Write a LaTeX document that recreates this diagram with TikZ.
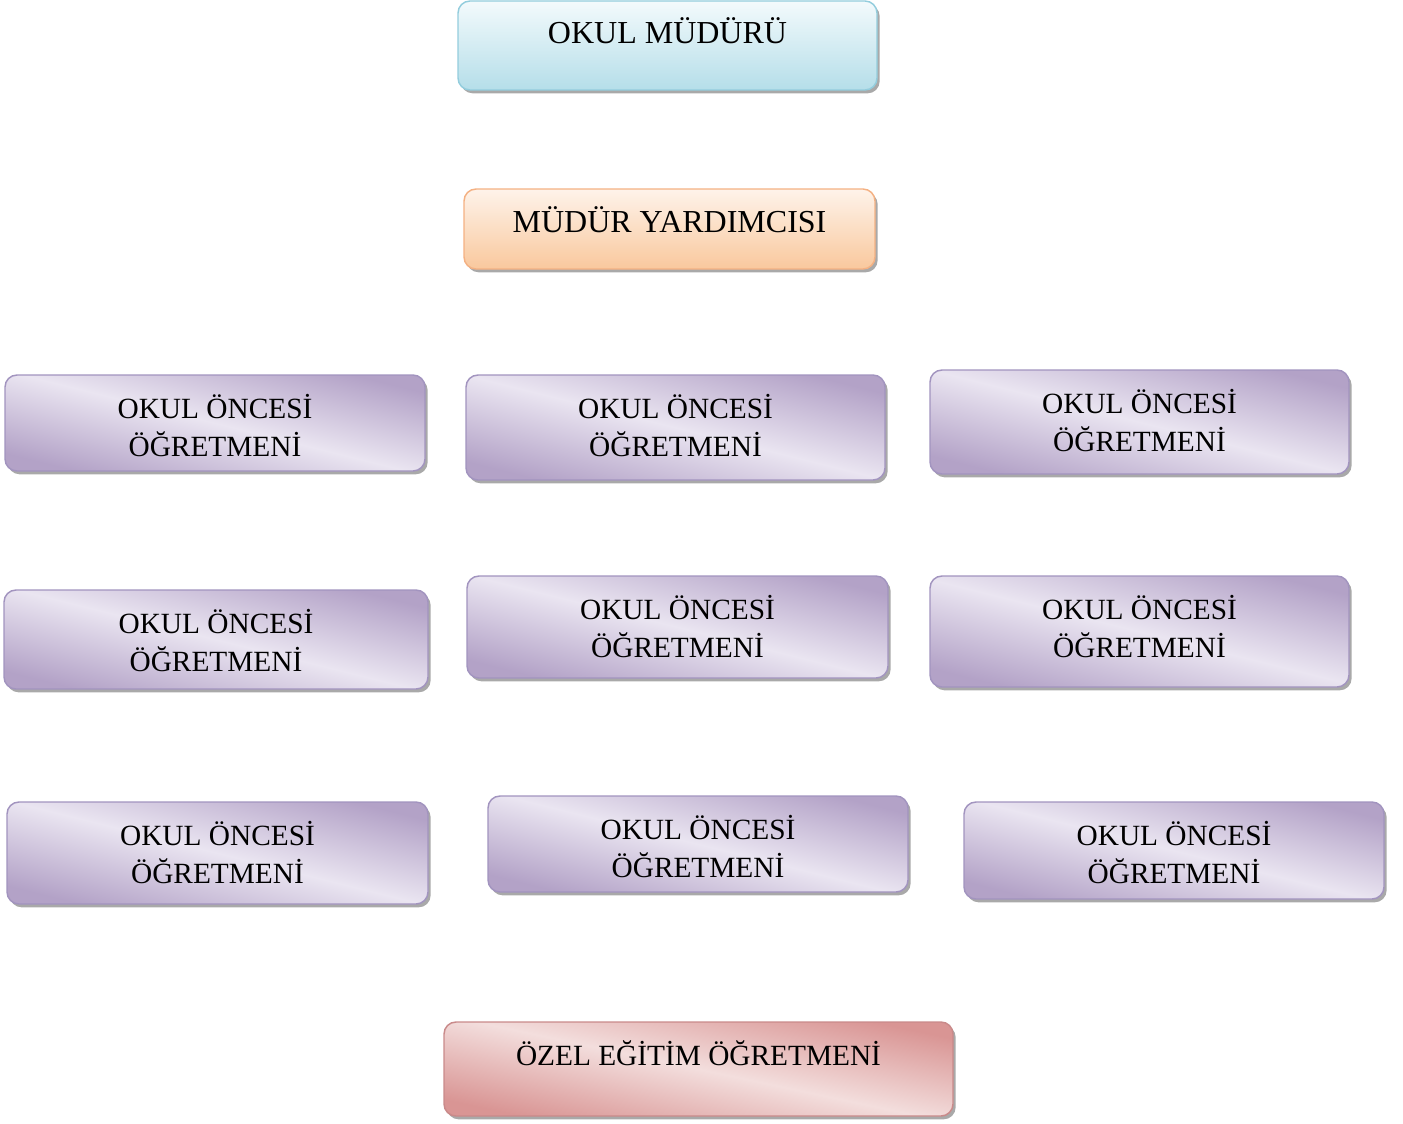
\documentclass[tikz,border=0pt]{standalone}
\usepackage{fontspec}
\setmainfont{Liberation Serif}
\usetikzlibrary{shadows}
\definecolor{blueTop}{HTML}{F3FAFC}
\definecolor{blueBot}{HTML}{B5DEE9}
\definecolor{blueLine}{HTML}{93CDDD}
\definecolor{orTop}{HTML}{FEF3EA}
\definecolor{orBot}{HTML}{F9C89D}
\definecolor{orLine}{HTML}{F4B183}
\definecolor{puDark}{HTML}{B3A2C7}
\definecolor{puLight}{HTML}{EAE5F1}
\definecolor{puLine}{HTML}{A294BF}
\definecolor{reDark}{HTML}{D99594}
\definecolor{reLight}{HTML}{F3DEDD}
\definecolor{reLine}{HTML}{C98A8A}
\begin{document}
\begin{tikzpicture}[x=0.75pt,y=-0.75pt,
  boxbase/.style={rectangle, rounded corners=9pt, line width=1.1pt, inner sep=0pt, outer sep=0pt,
    drop shadow={shadow xshift=2pt, shadow yshift=-2.5pt, fill=black!45, opacity=0.75}},
  bluebox/.style={boxbase, draw=blueLine, top color=blueTop, bottom color=blueBot},
  orbox/.style={boxbase, draw=orLine, top color=orTop, bottom color=orBot},
  pubox/.style={boxbase, draw=puLine, shading=axis, top color=puDark, bottom color=puDark, middle color=puLight, shading angle=-14},
  rebox/.style={boxbase, draw=reLine, shading=axis, top color=reDark, bottom color=reDark, middle color=reLight, shading angle=-12},
  bigtxt/.style={anchor=base, inner sep=0pt, font=\fontsize{24pt}{28.5pt}\selectfont},
  ptxt/.style={anchor=base, inner sep=0pt, align=center, font=\fontsize{22pt}{28.5pt}\selectfont},
]
\useasboundingbox (0,0) rectangle (1403,1124);

% boxes
\node[bluebox, minimum width=419*0.75pt, minimum height=89*0.75pt] (m) at (667.5,45.5) {};
\node[orbox, minimum width=411*0.75pt, minimum height=80*0.75pt] (y) at (669.5,229) {};
\node[pubox, minimum width=420*0.75pt, minimum height=96*0.75pt] (a1) at (215,423) {};
\node[pubox, minimum width=419*0.75pt, minimum height=105*0.75pt] (a2) at (675.5,427.5) {};
\node[pubox, minimum width=419*0.75pt, minimum height=104*0.75pt] (a3) at (1139.5,422) {};
\node[pubox, minimum width=424*0.75pt, minimum height=99*0.75pt] (b1) at (216,639.5) {};
\node[pubox, minimum width=421*0.75pt, minimum height=102*0.75pt] (b2) at (677.5,627) {};
\node[pubox, minimum width=419*0.75pt, minimum height=111*0.75pt] (b3) at (1139.5,631.5) {};
\node[pubox, minimum width=421*0.75pt, minimum height=102*0.75pt] (c1) at (217.5,853) {};
\node[pubox, minimum width=420*0.75pt, minimum height=96*0.75pt] (c2) at (698,844) {};
\node[pubox, minimum width=420*0.75pt, minimum height=97*0.75pt] (c3) at (1174,850.5) {};
\node[rebox, minimum width=509*0.75pt, minimum height=94*0.75pt] (z) at (698.5,1069) {};

% texts
\node[bigtxt] (tm) at ([yshift=-32.25pt]m.north) {OKUL MÜDÜRÜ};
\node[bigtxt] (ty) at ([yshift=-32.25pt]y.north) {MÜDÜR YARDIMCISI};
\foreach \b in {a1,a2,a3,b1,b2,b3,c1,c2,c3}{
  \node[ptxt] (t\b) at ([yshift=-60.75pt]\b.north) {OKUL ÖNCESİ\\ÖĞRETMENİ};
}
\node[bigtxt, font=\fontsize{22pt}{26pt}\selectfont] (tz) at ([yshift=-32.25pt]z.north) {ÖZEL EĞİTİM ÖĞRETMENİ};
\end{tikzpicture}
\end{document}
